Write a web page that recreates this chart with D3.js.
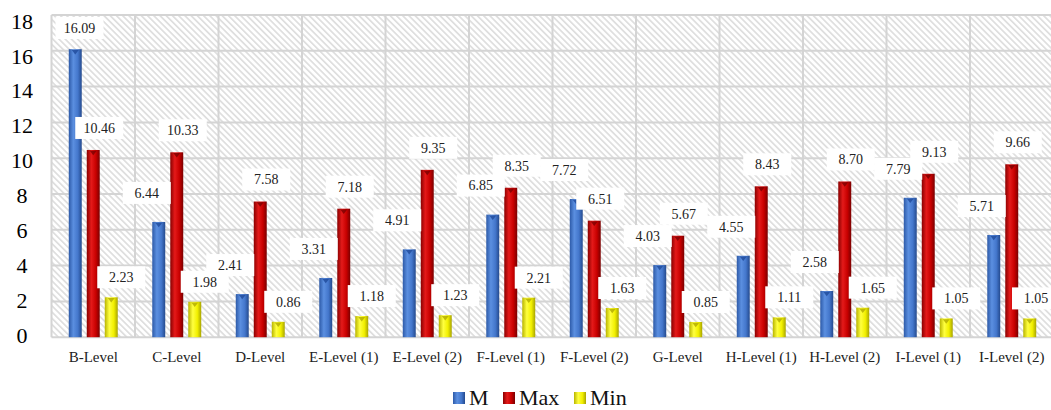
<!DOCTYPE html>
<html>
<head>
<meta charset="utf-8">
<script src="https://cdn.jsdelivr.net/npm/d3@7"></script>
<style>
  html, body { margin: 0; padding: 0; background: #fff; }
  svg { display: block; }
</style>
</head>
<body>
<svg id="chart" width="1051" height="410"></svg>
<script>
// Categories and the three series
const categories = ["B-Level", "C-Level", "D-Level", "E-Level (1)", "E-Level (2)", "F-Level (1)",
                    "F-Level (2)", "G-Level", "H-Level (1)", "H-Level (2)", "I-Level (1)", "I-Level (2)"];
const seriesNames = ["M", "Max", "Min"];
const mValues   = [16.09, 6.44, 2.41, 3.31, 4.91, 6.85, 7.72, 4.03, 4.55, 2.58, 7.79, 5.71];
const maxValues = [10.46, 10.33, 7.58, 7.18, 9.35, 8.35, 6.51, 5.67, 8.43, 8.70, 9.13, 9.66];
const minValues = [2.23, 1.98, 0.86, 1.18, 1.23, 2.21, 1.63, 0.85, 1.11, 1.65, 1.05, 1.05];
const yTicks    = [0, 2, 4, 6, 8, 10, 12, 14, 16, 18];

const SERIF = "Liberation Serif";
const svg = d3.select("#chart").attr("font-family", SERIF);
const W = 1051, H = 410;
const plot = { left: 51.5, top: 15, right: 1053.5, bottom: 337.2 };

const rows = categories.map((c, i) => ({
  cat: c,
  vals: [
    { key: "M", v: mValues[i] },
    { key: "Max", v: maxValues[i] },
    { key: "Min", v: minValues[i] }
  ]
}));

const x0 = d3.scaleBand().domain(categories).range([plot.left, plot.right]).padding(0);
const step = 18;
const outer = (x0.bandwidth() / step - 3 + 0.28) / 2;
const x1 = d3.scaleBand().domain(seriesNames).range([0, x0.bandwidth()])
  .paddingInner(0.28).paddingOuter(outer);
const y = d3.scaleLinear().domain([0, 18]).range([plot.bottom, plot.top]);
// tick text sits on a slightly tighter scale than the grid
const yLab = d3.scaleLinear().domain([0, 18]).range([335, 21]);

const defs = svg.append("defs");

// diagonal hatch fill for the plot area
const pat = defs.append("pattern")
  .attr("id", "hatch").attr("patternUnits", "userSpaceOnUse")
  .attr("width", 4.4).attr("height", 4.4)
  .attr("patternTransform", "rotate(-45)");
pat.append("rect").attr("width", 4.4).attr("height", 4.4).attr("fill", "#ffffff");
pat.append("rect").attr("x", 0).attr("y", 0).attr("width", 1.7).attr("height", 4.4).attr("fill", "#dedede");

// cylinder-like shading per series
const palettes = {
  M:   ["#2d5aa8", "#5b8fe0", "#4477cc", "#244a8e"],
  Max: ["#8a0000", "#e41a1a", "#c80000", "#7a0000"],
  Min: ["#b8b400", "#ffff40", "#f2f000", "#a8a400"]
};
const tipColor = { M: "#1f4a9a", Max: "#7a0000", Min: "#b0aa00" };
Object.entries(palettes).forEach(([k, c]) => {
  const g = defs.append("linearGradient").attr("id", "grad-" + k)
    .attr("x1", "0%").attr("x2", "100%").attr("y1", "0%").attr("y2", "0%");
  g.append("stop").attr("offset", "0%").attr("stop-color", c[0]);
  g.append("stop").attr("offset", "35%").attr("stop-color", c[1]);
  g.append("stop").attr("offset", "70%").attr("stop-color", c[2]);
  g.append("stop").attr("offset", "100%").attr("stop-color", c[3]);
});

const clip = defs.append("clipPath").attr("id", "clip");
clip.append("rect").attr("x", 0).attr("y", 0).attr("width", W).attr("height", H);

// plot background
svg.append("rect")
  .attr("x", plot.left).attr("y", plot.top)
  .attr("width", plot.right - plot.left).attr("height", plot.bottom - plot.top)
  .attr("fill", "url(#hatch)");

// gridlines
const grid = svg.append("g").attr("stroke", "#d4d4d4").attr("stroke-width", 2);
grid.selectAll("line.h").data(yTicks).join("line").attr("class", "h")
  .attr("x1", plot.left).attr("x2", plot.right)
  .attr("y1", d => y(d)).attr("y2", d => y(d));
grid.selectAll("line.v").data(categories).join("line").attr("class", "v")
  .attr("x1", d => x0(d)).attr("x2", d => x0(d))
  .attr("y1", plot.top).attr("y2", plot.bottom);

// y tick labels
svg.append("g").selectAll("text").data(yTicks).join("text")
  .attr("x", 22).attr("y", d => yLab(d))
  .attr("dy", "0.35em").attr("text-anchor", "middle")
  .attr("font-family", SERIF).attr("font-size", 22).attr("fill", "#000")
  .text(d => d);

// x category labels
svg.append("g").selectAll("text").data(categories).join("text")
  .attr("x", d => x0(d) + x0.bandwidth() / 2).attr("y", 357)
  .attr("dy", "0.35em").attr("text-anchor", "middle")
  .attr("font-family", SERIF).attr("font-size", 15).attr("fill", "#222")
  .text(d => d);

// bars
const groups = svg.append("g").selectAll("g").data(rows).join("g")
  .attr("transform", d => `translate(${x0(d.cat)},0)`);

groups.selectAll("rect").data(d => d.vals).join("rect")
  .attr("x", d => x1(d.key)).attr("width", x1.bandwidth())
  .attr("y", d => y(d.v)).attr("height", d => y(0) - y(d.v))
  .attr("fill", d => `url(#grad-${d.key})`);

// small bevel tip at the top of each bar
groups.selectAll("path.tip").data(d => d.vals).join("path").attr("class", "tip")
  .attr("d", d => {
    const xa = x1(d.key) + 3, xb = x1(d.key) + x1.bandwidth() - 3;
    const xm = (xa + xb) / 2, yt = y(d.v) + 0.8;
    return `M${xa},${yt}L${xb},${yt}L${xm},${yt + 4.5}Z`;
  })
  .attr("fill", d => tipColor[d.key]).attr("opacity", 0.8);

// value labels in white boxes, drawn series by series
const offsets = { M: [-12, -29], Max: [6, -22], Min: [10, -20] };
const fmt = d3.format(".2f");
const labels = svg.append("g").attr("clip-path", "url(#clip)");
seriesNames.forEach((key, si) => {
  rows.forEach(r => {
    const d = r.vals[si];
    const cx0 = x0(r.cat) + x1(key) + x1.bandwidth() / 2 + offsets[key][0];
    const cx = Math.min(Math.max(cx0, plot.left + 28), W - 15);
    const cy = Math.max(y(d.v) + offsets[key][1], plot.top + 13);
    const g = labels.append("g").attr("transform", `translate(${cx},${cy})`);
    g.append("rect").attr("x", -24).attr("y", -11).attr("width", 48).attr("height", 22)
      .attr("fill", "#ffffff");
    g.append("text").attr("text-anchor", "middle").attr("dy", "0.35em")
      .attr("font-family", SERIF).attr("font-size", 14).attr("fill", "#222").text(fmt(d.v));
  });
});

// legend
const legendItems = [
  { key: "M", x: 453 },
  { key: "Max", x: 503 },
  { key: "Min", x: 574 }
];
const lg = svg.append("g");
legendItems.forEach(it => {
  lg.append("rect").attr("x", it.x).attr("y", 392).attr("width", 12).attr("height", 12)
    .attr("fill", `url(#grad-${it.key})`);
  lg.append("text").attr("x", it.x + 16).attr("y", 405)
    .attr("font-family", SERIF).attr("font-size", 22).attr("fill", "#111").text(it.key);
});
</script>
</body>
</html>
